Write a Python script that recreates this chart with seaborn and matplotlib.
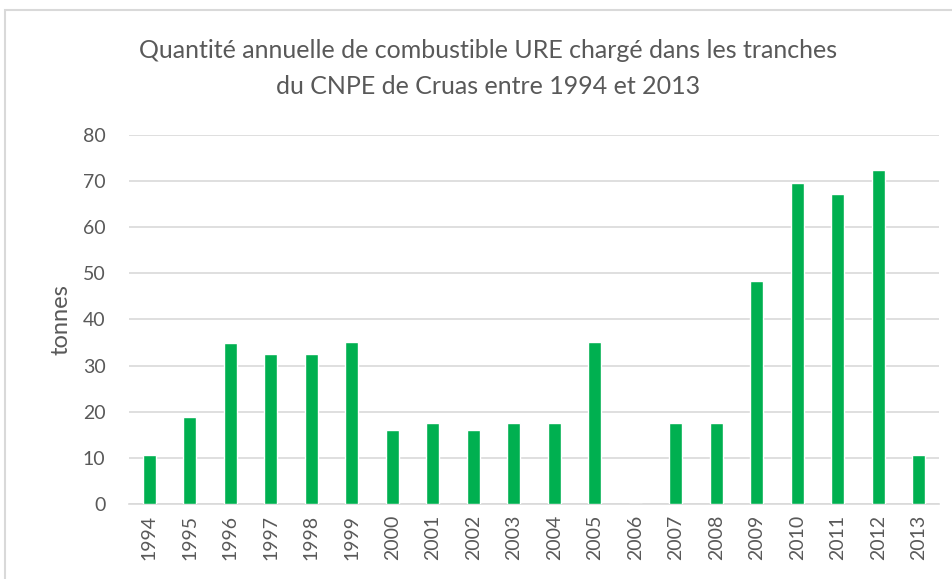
import matplotlib
matplotlib.use("Agg")
import matplotlib.pyplot as plt
import seaborn as sns
import pandas as pd
from matplotlib.patches import Rectangle

# Data
years = ["1994", "1995", "1996", "1997", "1998", "1999", "2000", "2001", "2002", "2003",
         "2004", "2005", "2006", "2007", "2008", "2009", "2010", "2011", "2012", "2013"]
tonnes = [10.7, 18.8, 34.8, 32.6, 32.6, 35.2, 16.1, 17.6, 16.1, 17.6,
          17.6, 35.1, 0.0, 17.6, 17.6, 48.2, 69.6, 67.1, 72.4, 10.7]
yticks = [0, 10, 20, 30, 40, 50, 60, 70, 80]

df = pd.DataFrame({"year": years, "tonnes": tonnes})

sns.set_theme(style="white")
plt.rcParams["font.family"] = ["Lato", "DejaVu Sans"]

text_gray = "#595959"
grid_gray = "#d9d9d9"

fig = plt.figure(figsize=(9.53, 5.79), dpi=100)
ax = fig.add_axes([129 / 953, 1 - 504 / 579, (939 - 129) / 953, (504 - 134.7) / 579])

sns.barplot(data=df, x="year", y="tonnes", color="#00B050", width=0.33,
            saturation=1, ax=ax, zorder=3)

ax.set_ylim(0, 80)
ax.set_xlim(-0.5, len(years) - 0.5)
ax.set_yticks(yticks)
ax.yaxis.grid(True, color=grid_gray, linewidth=1.2, zorder=0)
for s in ["top", "right", "left"]:
    ax.spines[s].set_visible(False)
ax.spines["bottom"].set_color(grid_gray)
ax.spines["bottom"].set_linewidth(1.2)

ax.tick_params(axis="y", labelsize=14, colors=text_gray, length=0, pad=17)
ax.tick_params(axis="x", labelsize=14, colors=text_gray, length=0, pad=8, rotation=90)
ax.set_xlabel("")
ax.set_ylabel("tonnes", fontsize=17, color=text_gray, labelpad=8)

fig.text(0.512, 1 - 68.5 / 579,
         "Quantité annuelle de combustible URE chargé dans les tranches\ndu CNPE de Cruas entre 1994 et 2013",
         ha="center", va="center", fontsize=18, color=text_gray, linespacing=1.7)

# Light chart border like the original export
fig.patches.append(Rectangle((5 / 953, -0.1), 1.0, 1 - 10 / 579 + 0.1,
                             transform=fig.transFigure, fill=False,
                             edgecolor="#d9d9d9", linewidth=1.5))

fig.savefig("out.png", dpi=100)
